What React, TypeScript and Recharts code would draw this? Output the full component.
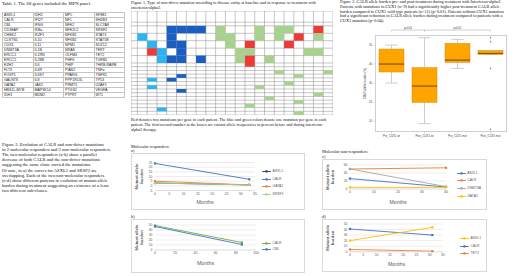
import React from 'react';
import {
  LineChart, Line, XAxis, YAxis, CartesianGrid, Legend,
  ComposedChart, Bar, Scatter, ScatterChart, ReferenceLine,
} from 'recharts';

// ===== Table 1 =====
const tableCol1 = ['ASXL1', 'CALR', 'CBL', 'CD3EAP', 'CHEK2', 'CLSTN1', 'CUX1', 'DNMT3A', 'ERCC1', 'ERCC2', 'EZH2', 'FLT3', 'FOXP1', 'GALNT8', 'GATA2', 'HBS1L-MYB', 'IDH1'];
const tableCol2 = ['IDH2', 'IFI27', 'IFNG', 'IKBa', 'IKZF1', 'IL10', 'IL11', 'IL1B', 'IL1RN', 'IL28B', 'IL6', 'IL6R', 'IL6ST', 'IL8', 'JAK2', 'MAP3K14', 'MDM2'];
const tableCol3 = ['MPL', 'NF1', 'NFE2', 'NFE2L2', 'NFKB1', 'NFKB2', 'NPM1', 'NRAS', 'OLFM4', 'PHF6', 'PHIP', 'PIAS2', 'PPARG', 'PPP1R13L', 'PRMT5', 'PTGS2', 'PTPRT'];
const tableCol4 = ['SF3B1', 'SH2B3', 'SLC7A8', 'SRSF2', 'STAT3', 'STAT5B', 'SUZ12', 'TERT', 'TET2', 'TGFB1', 'THRB-RARB', 'TNFa', 'TNFR1', 'TP53', 'U2AF1', 'VEGFA', 'WT1'];

// ===== Figure 1 heatmap =====
const heatRowLines = [2, 2, 2, 2, 2, 1, 1, 1, 1, 1, 1, 1, 1, 1, 1, 1, 1, 1, 1];
const heatColumnCount = 20;
// [row, column, kind]
const heatCells: [number, number, string][] = [
  [0, 3, 'dark'], [0, 4, 'dark'], [0, 5, 'dark'], [0, 6, 'dark'], [0, 8, 'green'], [0, 12, 'green'], [0, 14, 'green'], [0, 15, 'green'], [0, 18, 'red'],
  [1, 0, 'light'], [1, 3, 'dark'], [1, 8, 'green'], [1, 9, 'green'], [1, 12, 'green'], [1, 14, 'green'], [1, 16, 'red'], [1, 18, 'green'],
  [2, 1, 'light'], [2, 3, 'dark'], [2, 4, 'dark'], [2, 9, 'green'], [2, 11, 'red'], [2, 15, 'red'],
  [3, 1, 'red'], [3, 2, 'light'], [3, 4, 'dark'], [3, 10, 'green'], [3, 11, 'green'], [3, 17, 'green'], [3, 18, 'green'],
  [4, 2, 'light'], [4, 3, 'dark'], [4, 4, 'dark'], [4, 6, 'dark'], [4, 10, 'green'], [4, 11, 'red'], [4, 13, 'green'],
  [5, 11, 'red'],
  [7, 14, 'green'], [7, 19, 'green'],
  [8, 4, 'dark'], [8, 16, 'green'],
  [9, 1, 'light'], [9, 3, 'dark'],
  [10, 15, 'green'],
  [11, 1, 'light'], [11, 12, 'green'],
  [12, 4, 'dark'],
  [13, 18, 'green'],
  [14, 13, 'green'],
  [15, 16, 'green'],
  [16, 11, 'green'],
  [17, 2, 'light'],
  [18, 16, 'green'],
];
const heatColors: Record<string, string> = { dark: '#1A5EBF', light: '#2CB3F0', green: '#A9D18E', red: '#EC3A36' };

// ===== Figure 2 boxplot =====
const boxGroups = ['Pre_CUX1 wt', 'Post_CUX1 wt', 'Pre_CUX1 mut', 'Post_CUX1 mut'];
const boxMin = [30, 8.6, 37.7, 45.1];
const boxQ1 = [35.8, 19.8, 40.9, 45.1];
const boxMedian = [40, 28.4, 42.1, 45.6];
const boxQ3 = [47.9, 38.1, 50.9, 47.2];
const boxMax = [50, 53.9, 53, 47.2];
const outlierGroup = ['Post_CUX1 mut', 'Post_CUX1 mut', 'Post_CUX1 mut', 'Post_CUX1 mut'];
const outlierValue = [53.9, 51.8, 37.7, 5.6];
const boxYTicks = [10, 20, 30, 40, 50];

// ===== Figure 3 line charts =====
const monthsA = [0, 33];
const aASXL1 = [3, 1];
const aCALR = [24, 7];
const aGATA2 = [5, 1];
const aSRSF2 = [3, 1];
const ticksAX = [0, 5, 10, 15, 20, 25, 30, 35];
const ticksAY = [-5, 0, 5, 10, 15, 20, 25];

const monthsB = [0, 86];
const bCALR = [49, 15];
const bCBL = [47, 11];
const ticksBX = [0, 20, 40, 60, 80, 100];
const ticksBY = [0, 10, 20, 30, 40, 50];

const monthsC = [0, 40];
const cASXL1 = [26, 5];
const cCALR = [50, 53];
const cDNMT3A = [50, 6];
const cGATA2 = [4, 4];
const ticksCX = [0, 10, 20, 30, 40];
const ticksCY = [0, 20, 40, 60];

const monthsD = [0, 31];
const dCALR = [41, 30];
const dASXL1 = [20, 44];
const dTET2 = [4, 1];
const ticksDX = [0, 5, 10, 15, 20, 25, 30, 35];
const ticksDY = [0, 10, 20, 30, 40, 50];

// ===== Captions =====
const table1Caption = ['Table 1. The 68 genes included the MPN panel.'];
const fig1Caption = [
  'Figure 1. Type of non-driver mutation according to disease entity at baseline and in response to treatment with',
  'interferon-alpha2.',
];
const fig1Note = [
  'Red denotes two mutations per gene in each patient. The blue and green colors denote one mutation per gene in each',
  'patient. The first/second number in the boxes are variant allele frequencies in percent before and during interferon-',
  'alpha2 therapy.',
];
const fig2Caption = [
  'Figure 2. CALR allele burden pre- and post-treatment during treatment with Interferon-alpha2.',
  'Patients with mutations in CUX1 (n=9) had a significantly higher post-treatment CALR allele',
  'burden compared to CUX1 wild type patients (n=11) (p=0.01). Patients without CUX1 mutation',
  'had a significant reduction in CALR allele burden during treatment compared to patients with a',
  'CUX1 mutation (p=0.04).',
];
const fig3Caption = [
  'Figure 3. Evolution of CALR and non-driver mutations',
  'in 2 molecular responders and 2 non-molecular responders.',
  'The two molecular responders (a-b) show a parallel',
  'decrease of both CALR and the non-driver mutations',
  'suggesting the same clone carried the mutations.',
  'Of note, in a) the curves for ASXL1 and SRSF2 are',
  'overlapping. Each of the two non-molecular responders',
  '(c-d) show different patterns in evolution of mutant allele',
  'burden during treatment suggesting an existence of a least',
  'two different sub-clones.',
];

const SERIF = "'Liberation Serif', 'Times New Roman', serif";
const SANS = "'Liberation Sans', Arial, sans-serif";

function Caption(props: { left: number; top: number; lines: string[]; fontSize: number; lineHeight: number }) {
  return (
    <div style={{ position: 'absolute', left: props.left, top: props.top, fontFamily: SERIF, fontSize: props.fontSize, lineHeight: `${props.lineHeight}px`, color: '#111' }}>
      {props.lines.map((l, i) => (
        <div key={i} style={{ whiteSpace: 'nowrap' }}>{l}</div>
      ))}
    </div>
  );
}

function Table1() {
  return (
    <table style={{ position: 'absolute', left: 2, top: 12, width: 123, borderCollapse: 'collapse', tableLayout: 'fixed', fontFamily: SANS, fontSize: 3.6, color: '#222' }}>
      <tbody>
        {tableCol1.map((g, i) => (
          <tr key={i}>
            {[g, tableCol2[i], tableCol3[i], tableCol4[i]].map((t, j) => (
              <td key={j} style={{ border: '1px solid #c4c4c4', padding: '0 0 0 1px', height: 4, lineHeight: '4px', overflow: 'hidden', whiteSpace: 'nowrap' }}>{t}</td>
            ))}
          </tr>
        ))}
      </tbody>
    </table>
  );
}

function Heatmap() {
  const rowStart: number[] = [];
  let acc = 0;
  heatRowLines.forEach((l) => { rowStart.push(acc); acc += l; });
  const data = heatCells.map(([row, col, kind]) => ({
    x: col + 0.5,
    y: rowStart[row] + heatRowLines[row] / 2,
    lines: heatRowLines[row],
    kind,
  }));
  const w = 202, h = 104;
  const xMin = -0.65, xMax = heatColumnCount, yMin = -4, yMax = acc;
  const xu = w / (xMax - xMin);
  const yu = h / (yMax - yMin);
  const xLines = [xMin, ...Array.from({ length: heatColumnCount + 1 }, (_, i) => i)];
  const yLines = [yMin, -1, ...rowStart, acc];
  return (
    <div style={{ position: 'absolute', left: 131, top: 11 }}>
      <ScatterChart width={w} height={h} margin={{ top: 0, right: 0, bottom: 0, left: 0 }}>
        <XAxis type="number" dataKey="x" domain={[xMin, xMax]} allowDataOverflow hide />
        <YAxis type="number" dataKey="y" domain={[yMin, yMax]} allowDataOverflow reversed hide />
        <Scatter
          data={data}
          isAnimationActive={false}
          shape={(p: any) => (
            <rect
              x={p.cx - xu / 2}
              y={p.cy - (p.payload.lines * yu) / 2}
              width={xu}
              height={p.payload.lines * yu}
              fill={heatColors[p.payload.kind]}
            />
          )}
        />
        {xLines.map((v) => (
          <ReferenceLine key={`vx${v}`} x={v} stroke="#8c8c8c" strokeWidth={0.5} ifOverflow="visible"
            segment={v === xMin ? undefined : undefined} />
        ))}
        {yLines.map((v) => (
          <ReferenceLine key={`hy${v}`} y={v} stroke="#8c8c8c" strokeWidth={0.5} ifOverflow="visible" />
        ))}
      </ScatterChart>
    </div>
  );
}

const BOX_FILL = '#FFA500';
const BOX_EDGE = '#D08A10';
const WHISK = '#B8B8B8';

function BoxPlot() {
  const data = boxGroups.map((name, i) => ({
    name,
    base: boxMin[i],
    lw: boxQ1[i] - boxMin[i],
    lo: boxMedian[i] - boxQ1[i],
    hi: boxQ3[i] - boxMedian[i],
    uw: boxMax[i] - boxQ3[i],
  }));
  const outliers = outlierGroup.map((name, i) => ({ name, value: outlierValue[i] }));
  const lowerWhisker = (p: any) => {
    const cx = p.x + p.width / 2;
    return (
      <g>
        <line x1={cx} x2={cx} y1={p.y} y2={p.y + p.height} stroke={WHISK} strokeWidth={0.7} />
        <line x1={cx - p.width / 4} x2={cx + p.width / 4} y1={p.y + p.height} y2={p.y + p.height} stroke={WHISK} strokeWidth={0.7} />
      </g>
    );
  };
  const upperWhisker = (p: any) => {
    const cx = p.x + p.width / 2;
    return (
      <g>
        <line x1={cx} x2={cx} y1={p.y} y2={p.y + p.height} stroke={WHISK} strokeWidth={0.7} />
        <line x1={cx - p.width / 4} x2={cx + p.width / 4} y1={p.y} y2={p.y} stroke={WHISK} strokeWidth={0.7} />
      </g>
    );
  };
  const lowBox = (p: any) => (
    <rect x={p.x} y={p.y} width={p.width} height={p.height} fill={BOX_FILL} stroke={BOX_EDGE} strokeWidth={0.5} />
  );
  const highBox = (p: any) => (
    <g>
      <rect x={p.x} y={p.y} width={p.width} height={p.height} fill={BOX_FILL} stroke={BOX_EDGE} strokeWidth={0.5} />
      <line x1={p.x} x2={p.x + p.width} y1={p.y + p.height} y2={p.y + p.height} stroke="#8A5200" strokeWidth={1.1} />
    </g>
  );
  const bracket = (a: string, b: string, text: string) => [
    <ReferenceLine key={`${text}-h`} segment={[{ x: a, y: 57.9 }, { x: b, y: 57.9 }]} stroke="#888" strokeWidth={0.4} ifOverflow="visible"
      label={{ value: text, position: 'top', offset: 0.8, fontSize: 2.6, fill: '#444' }} />,
    <ReferenceLine key={`${text}-a`} segment={[{ x: a, y: 57.9 }, { x: a, y: 57.3 }]} stroke="#888" strokeWidth={0.4} ifOverflow="visible" />,
    <ReferenceLine key={`${text}-b`} segment={[{ x: b, y: 57.9 }, { x: b, y: 57.3 }]} stroke="#888" strokeWidth={0.4} ifOverflow="visible" />,
  ];
  return (
    <div style={{ position: 'absolute', left: 340, top: 20, fontFamily: SANS }}>
      <ComposedChart width={172} height={126} data={data} margin={{ top: 15, right: 5, bottom: 0, left: 0 }} barSize={25}>
        <XAxis dataKey="name" type="category" allowDuplicatedCategory={false} height={14} interval={0}
          tick={{ fontSize: 2.8, fill: '#444' }} tickSize={1.5} tickMargin={1.5} axisLine={false} tickLine={{ stroke: '#999', strokeWidth: 0.4 }} />
        <YAxis type="number" domain={[4.2, 55.3]} allowDataOverflow ticks={boxYTicks} width={35} interval={0}
          tick={{ fontSize: 2.8, fill: '#444' }} tickSize={1.5} tickMargin={1.5} axisLine={false} tickLine={{ stroke: '#999', strokeWidth: 0.4 }}
          label={{ content: (lp: any) => {
            const vb = lp.viewBox || { y: 15, height: 97 };
            const cy = vb.y + vb.height / 2;
            return <text transform={`translate(25,${cy}) rotate(-90)`} textAnchor="middle" dominantBaseline="central" fontSize={3} fill="#444">CALR allele burden (%)</text>;
          } }} />
        <Bar dataKey="base" stackId="b" isAnimationActive={false} shape={() => <g />} />
        <Bar dataKey="lw" stackId="b" isAnimationActive={false} shape={lowerWhisker} />
        <Bar dataKey="lo" stackId="b" isAnimationActive={false} shape={lowBox} />
        <Bar dataKey="hi" stackId="b" isAnimationActive={false} shape={highBox} />
        <Bar dataKey="uw" stackId="b" isAnimationActive={false} shape={upperWhisker} />
        <Scatter data={outliers} dataKey="value" isAnimationActive={false}
          shape={(p: any) => <path d={`M${p.cx},${p.cy - 1} L${p.cx + 0.8},${p.cy} L${p.cx},${p.cy + 1} L${p.cx - 0.8},${p.cy} Z`} fill="#777" />} />
        {bracket(boxGroups[0], boxGroups[1], 'p=0.04')}
        {bracket(boxGroups[1], boxGroups[3], 'p=0.01')}
      </ComposedChart>
      <div style={{ position: 'absolute', left: 35, top: 15, width: 132, height: 97, boxSizing: 'border-box', border: '1px solid #cfcfcf', pointerEvents: 'none' }} />
    </div>
  );
}

type Series = { name: string; values: number[]; color: string };
type MiniProps = {
  left: number; top: number; width: number; height: number;
  months: number[]; series: Series[];
  xTicks: number[]; yTicks: number[];
  plotL: number; plotT: number; plotR: number; plotB: number;
  monthsY: number; yLabelX: number;
  legendX: number; legendY: number; legendGap: number;
};

function MiniLine(p: MiniProps) {
  const data = p.months.map((m, i) => {
    const row: Record<string, number> = { month: m };
    p.series.forEach((s) => { row[s.name] = s.values[i]; });
    return row;
  });
  const xAxisH = p.height - p.plotB;
  return (
    <div style={{ position: 'absolute', left: p.left, top: p.top, width: p.width, height: p.height, boxSizing: 'border-box', border: '1px solid #d9d9d9', background: '#fff', fontFamily: SANS }}>
      <div style={{ position: 'absolute', left: -1, top: -1 }}>
        <LineChart width={p.width} height={p.height} data={data} margin={{ top: p.plotT, right: p.width - p.plotR, bottom: 0, left: 0 }}>
          <CartesianGrid vertical={false} stroke="#d9d9d9" strokeWidth={0.5} />
          <XAxis dataKey="month" type="number" domain={[p.xTicks[0], p.xTicks[p.xTicks.length - 1]]} ticks={p.xTicks} height={xAxisH} interval={0}
            tick={{ fontSize: 3.4, fill: '#595959' }} tickSize={1} tickMargin={1} tickLine={false} axisLine={{ stroke: '#d0d0d0', strokeWidth: 0.5 }}
            label={{ content: (lp: any) => {
              const vb = lp.viewBox || { x: p.plotL, width: p.plotR - p.plotL };
              return <text x={vb.x + vb.width / 2} y={p.monthsY} textAnchor="middle" dominantBaseline="central" fontSize={5.2} fill="#595959">Months</text>;
            } }} />
          <YAxis type="number" domain={[p.yTicks[0], p.yTicks[p.yTicks.length - 1]]} ticks={p.yTicks} width={p.plotL} interval={0}
            tick={{ fontSize: 3.4, fill: '#595959' }} tickSize={1} tickMargin={1.5} tickLine={false} axisLine={false}
            label={{ content: () => {
              const cy = (p.plotT + p.plotB) / 2;
              return (
                <text transform={`translate(${p.yLabelX},${cy}) rotate(-90)`} textAnchor="middle" fontSize={4.3} fontWeight="bold" fill="#595959">
                  <tspan x={0} dy={-0.8}>Mutant allele</tspan>
                  <tspan x={0} dy={4.8}>burden</tspan>
                </text>
              );
            } }} />
          {p.series.map((s) => (
            <Line key={s.name} type="linear" dataKey={s.name} name={s.name} stroke={s.color} strokeWidth={0.9} isAnimationActive={false}
              dot={(dp: any) => <rect key={`${s.name}-${dp.index}`} x={dp.cx - 1.1} y={dp.cy - 1.1} width={2.2} height={2.2} fill={s.color} />} />
          ))}
          <Legend layout="vertical" align="center" verticalAlign="middle"
            wrapperStyle={{ left: p.legendX, top: p.legendY, width: 40 }}
            content={(lp: any) => (
              <div>
                {(lp.payload || []).map((e: any) => (
                  <div key={e.value} style={{ height: p.legendGap, display: 'flex', alignItems: 'center' }}>
                    <svg width={9} height={3} style={{ display: 'block' }}>
                      <line x1={0} y1={1.5} x2={9} y2={1.5} stroke={e.color} strokeWidth={0.9} />
                      <rect x={3.4} y={0.3} width={2.2} height={2.2} fill={e.color} />
                    </svg>
                    <span style={{ fontSize: 3.4, marginLeft: 1.5, color: '#595959', lineHeight: '3px', whiteSpace: 'nowrap' }}>{e.value}</span>
                  </div>
                ))}
              </div>
            )} />
        </LineChart>
      </div>
    </div>
  );
}

export default function App() {
  return (
    <div style={{ position: 'absolute', left: 0, top: 0, width: 520, height: 276, background: '#fff', overflow: 'hidden' }}>
      <Caption left={2} top={0.5} lines={table1Caption} fontSize={4.7} lineHeight={5} />
      <Table1 />

      <Caption left={131} top={0} lines={fig1Caption} fontSize={4.2} lineHeight={5} />
      <Heatmap />
      <Caption left={131} top={116.5} lines={fig1Note} fontSize={4.2} lineHeight={5} />

      <Caption left={340} top={0.3} lines={fig2Caption} fontSize={4.25} lineHeight={4.7} />
      <BoxPlot />

      <Caption left={2} top={141.5} lines={fig3Caption} fontSize={4.6} lineHeight={5.2} />

      <Caption left={131} top={144.5} lines={['Molecular responders:', 'a)']} fontSize={4.3} lineHeight={4.4} />
      <MiniLine left={131} top={153} width={174} height={57} months={monthsA}
        series={[
          { name: 'ASXL1', values: aASXL1, color: '#264478' },
          { name: 'CALR', values: aCALR, color: '#4472C4' },
          { name: 'GATA2', values: aGATA2, color: '#ED7D31' },
          { name: 'SRSF2', values: aSRSF2, color: '#A9D18E' },
        ]}
        xTicks={ticksAX} yTicks={ticksAY} plotL={24} plotT={9.5} plotR={124} plotB={37.5}
        monthsY={48.5} yLabelX={7.5} legendX={131} legendY={14.9} legendGap={7.6} />

      <Caption left={131} top={214.8} lines={['b)']} fontSize={4.3} lineHeight={4.4} />
      <MiniLine left={131} top={219} width={174} height={54} months={monthsB}
        series={[
          { name: 'CALR', values: bCALR, color: '#70AD47' },
          { name: 'CBL', values: bCBL, color: '#4472C4' },
        ]}
        xTicks={ticksBX} yTicks={ticksBY} plotL={24} plotT={6} plotR={125} plotB={31}
        monthsY={43.7} yLabelX={7.5} legendX={131} legendY={21.5} legendGap={5.7} />

      <Caption left={322} top={149.8} lines={['Molecular non-responders:', 'c)']} fontSize={4.3} lineHeight={4.8} />
      <MiniLine left={322} top={159} width={165} height={51} months={monthsC}
        series={[
          { name: 'ASXL1', values: cASXL1, color: '#4472C4' },
          { name: 'CALR', values: cCALR, color: '#ED7D31' },
          { name: 'DNMT3A', values: cDNMT3A, color: '#A5A5A5' },
          { name: 'GATA2', values: cGATA2, color: '#FFC000' },
        ]}
        xTicks={ticksCX} yTicks={ticksCY} plotL={28} plotT={6} plotR={124} plotB={30}
        monthsY={42.7} yLabelX={8} legendX={134.7} legendY={10.5} legendGap={7.6} />

      <Caption left={322} top={215.3} lines={['d)']} fontSize={4.3} lineHeight={4.4} />
      <MiniLine left={322} top={219} width={165} height={53} months={monthsD}
        series={[
          { name: 'CALR', values: dCALR, color: '#4472C4' },
          { name: 'ASXL1', values: dASXL1, color: '#FFC000' },
          { name: 'TET2', values: dTET2, color: '#ED7D31' },
        ]}
        xTicks={ticksDX} yTicks={ticksDY} plotL={28} plotT={5} plotR={121} plotB={32.7}
        monthsY={45.3} yLabelX={8} legendX={138} legendY={16.4} legendGap={7.2} />
    </div>
  );
}
